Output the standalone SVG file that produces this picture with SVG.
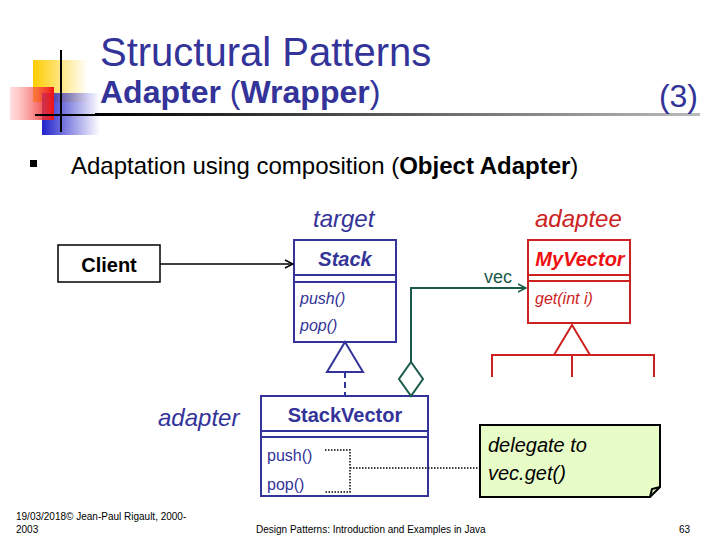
<svg xmlns="http://www.w3.org/2000/svg" width="720" height="540" viewBox="0 0 720 540">
<defs>
<linearGradient id="gy" x1="0" x2="1"><stop offset="0" stop-color="#ffcc00"/><stop offset="1" stop-color="#ffcc00" stop-opacity="0"/></linearGradient>
<linearGradient id="gr" x1="0" x2="1"><stop offset="0" stop-color="#ff9999" stop-opacity="0.3"/><stop offset="1" stop-color="#ee1111"/></linearGradient>
<linearGradient id="gb" x1="0" x2="1"><stop offset="0" stop-color="#2222cc"/><stop offset="1" stop-color="#2222cc" stop-opacity="0"/></linearGradient>
<linearGradient id="gl" x1="0" x2="1"><stop offset="0" stop-color="#000"/><stop offset="1" stop-color="#bbb"/></linearGradient>
<marker id="ab" markerWidth="10" markerHeight="10" refX="9" refY="5" orient="auto" markerUnits="userSpaceOnUse"><path d="M1,1 L9,5 L1,9" fill="none" stroke="#000" stroke-width="1.5"/></marker>
<marker id="ag" markerWidth="10" markerHeight="10" refX="9" refY="5" orient="auto" markerUnits="userSpaceOnUse"><path d="M1,1 L9,5 L1,9" fill="none" stroke="#1a5a4a" stroke-width="1.5"/></marker>
</defs>
<style>
text{font-family:"Liberation Sans",Arial,sans-serif}
.b{fill:none;stroke:#333399;stroke-width:2}
.r{fill:none;stroke:#cc2222;stroke-width:2}
.blue{fill:#333399}
</style>
<rect width="720" height="540" fill="#fff"/>
<g id="logo">
<rect x="33" y="60" width="55" height="42" fill="url(#gy)"/>
<rect x="42" y="93" width="58" height="42" fill="url(#gb)"/>
<rect x="10" y="87" width="44" height="33" fill="url(#gr)"/>
<line x1="61" y1="50" x2="61" y2="132" stroke="#000" stroke-width="2"/>
<line x1="35" y1="115" x2="95" y2="115" stroke="#000" stroke-width="2"/>
<rect x="95" y="113" width="605" height="3" fill="url(#gl)"/>
</g>
<text x="100" y="66" font-size="40" class="blue">Structural Patterns</text>
<text x="100" y="103" font-size="32" class="blue"><tspan font-weight="bold">Adapter</tspan> (<tspan font-weight="bold">Wrapper</tspan>)</text>
<text x="698" y="107" font-size="32" class="blue" text-anchor="end">(3)</text>
<rect x="30" y="160" width="7" height="7" fill="#000"/>
<text x="71" y="174" font-size="24" fill="#000">Adaptation using composition (<tspan font-weight="bold">Object Adapter</tspan>)</text>
<text x="313" y="227" font-size="24" font-style="italic" class="blue">target</text>
<text x="535" y="227" font-size="24" font-style="italic" fill="#cc2222">adaptee</text>
<text x="158" y="426" font-size="24" font-style="italic" class="blue">adapter</text>
<g id="client"><rect x="58" y="245" width="102" height="37" fill="#fff" stroke="#000" stroke-width="1.5"/><text x="109" y="272" font-size="20" font-weight="bold" text-anchor="middle">Client</text></g>
<g id="stack">
<rect x="294" y="240" width="102" height="102" class="b"/>
<line x1="294" y1="275" x2="396" y2="275" class="b"/><line x1="294" y1="282" x2="396" y2="282" class="b"/>
<text x="345" y="266" font-size="20" font-weight="bold" font-style="italic" text-anchor="middle" class="blue">Stack</text>
<text x="300" y="304" font-size="16" font-style="italic" class="blue">push()</text>
<text x="300" y="331" font-size="16" font-style="italic" class="blue">pop()</text>
</g>
<g id="myvector">
<rect x="528" y="240" width="102" height="83" class="r"/>
<line x1="528" y1="275" x2="630" y2="275" class="r"/><line x1="528" y1="281" x2="630" y2="281" class="r"/>
<text x="580" y="266" font-size="20" font-weight="bold" font-style="italic" text-anchor="middle" fill="#ee1111">MyVector</text>
<text x="535" y="304" font-size="16" font-style="italic" fill="#cc2222">get(int i)</text>
</g>
<g id="stackvector">
<rect x="261" y="396" width="167" height="100" class="b"/>
<line x1="261" y1="431" x2="428" y2="431" class="b"/><line x1="261" y1="437" x2="428" y2="437" class="b"/>
<text x="345" y="422" font-size="20" font-weight="bold" text-anchor="middle" class="blue">StackVector</text>
<text x="267" y="461" font-size="16" class="blue">push()</text>
<text x="267" y="490" font-size="16" class="blue">pop()</text>
</g>
<g id="note">
<path d="M480,425 H660 V487 L650,497 H480 Z" fill="#e8fcc8" stroke="#000" stroke-width="2"/>
<path d="M650,497 L652,489 L660,487" fill="none" stroke="#000" stroke-width="2"/>
<text x="488" y="452" font-size="20" font-style="italic">delegate to</text>
<text x="488" y="480" font-size="20" font-style="italic">vec.get()</text>
</g>
<g id="connectors">
<line x1="160" y1="264" x2="293" y2="264" stroke="#000" stroke-width="1.5" marker-end="url(#ab)"/>
<path d="M345,342 L363,372 H327 Z" fill="#fff" class="b"/>
<line x1="345" y1="372" x2="345" y2="396" class="b" stroke-dasharray="6,4"/>
<path d="M411,362 V288 H526" fill="none" stroke="#1a5a4a" stroke-width="2" marker-end="url(#ag)"/>
<path d="M411,362 L423,379 L411,396 L399,379 Z" fill="#fff" stroke="#1a5a4a" stroke-width="2"/>
<text x="484" y="283" font-size="18" fill="#1a5a4a">vec</text>
<path d="M572,325 L590,355 H554 Z" fill="#fff" class="r"/>
<path d="M492,377 V355 H654 V377 M572,355 V377" class="r"/>
<path d="M325,450 H350 V492 H325 M350,468 H480" fill="none" stroke="#000" stroke-width="1.5" stroke-dasharray="1.5,1.5"/>
</g>
<text x="16" y="520" font-size="10">19/03/2018© Jean-Paul Rigault, 2000-</text>
<text x="16" y="533" font-size="10">2003</text>
<text x="256" y="533" font-size="10">Design Patterns: Introduction and Examples in Java</text>
<text x="690" y="533" font-size="10" text-anchor="end">63</text>
</svg>
